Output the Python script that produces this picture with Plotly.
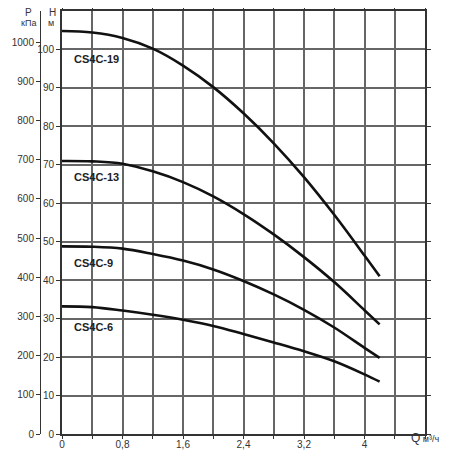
"""
Pump curves CS4C: head H (m) / pressure P (kPa) vs flow Q (m3/h).
"""
import plotly.graph_objects as go

# flow points, m3/h
q = [0, 0.4, 0.8, 1.2, 1.6, 2.0, 2.4, 2.8, 3.2, 3.6, 4.0, 4.2]

# head, m
h_cs4c_19 = [104.8, 104.4, 103.0, 100.2, 95.8, 90.2, 83.4, 75.6, 66.8, 57.0, 46.4, 41.0]
h_cs4c_13 = [71.0, 70.9, 70.3, 68.3, 65.5, 61.8, 57.2, 51.9, 46.0, 39.5, 32.2, 28.5]
h_cs4c_9 = [48.8, 48.7, 48.2, 46.8, 45.1, 42.8, 39.8, 36.3, 32.3, 27.7, 22.4, 19.8]
h_cs4c_6 = [33.2, 33.0, 32.1, 31.0, 29.7, 28.1, 26.0, 23.8, 21.5, 18.9, 15.5, 13.6]

curves = [
    ("CS4C-19", h_cs4c_19, 97.5),
    ("CS4C-13", h_cs4c_13, 66.9),
    ("CS4C-9", h_cs4c_9, 44.5),
    ("CS4C-6", h_cs4c_6, 27.7),
]

q_ticks = [0, 0.4, 0.8, 1.2, 1.6, 2.0, 2.4, 2.8, 3.2, 3.6, 4.0, 4.4, 4.8]
q_labels = ["0", "", "0,8", "", "1,6", "", "2,4", "", "3,2", "", "4", "", ""]
h_ticks = [0, 10, 20, 30, 40, 50, 60, 70, 80, 90, 100]
p_ticks = [0, 100, 200, 300, 400, 500, 600, 700, 800, 900, 1000]

H_MAX = 110
KPA_PER_M = 9.81

FONT = "Liberation Sans, Arial, sans-serif"
GRID = "#666666"
INK = "#333333"

# the page body adds an 8 px margin; screen positions below are shifted by OFF
OFF = 8
W, HGT = 442, 442
ML, MR, MT, MB = 40 - OFF, W - (425 - OFF), 11 - OFF, HGT - (434 - OFF)


def px(x, y):
    # screen pixel -> paper coordinates
    x, y = x - OFF, y - OFF
    return (x - ML) / (W - ML - MR), (HGT - MB - y) / (HGT - MT - MB)


fig = go.Figure()

for name, h, label_y in curves:
    fig.add_trace(go.Scatter(
        x=q, y=h, mode="lines", name=name,
        line=dict(color="#111111", width=2.6, shape="spline", smoothing=1.0),
        showlegend=False,
    ))
    fig.add_annotation(
        x=0.13, y=label_y, xref="x", yref="y",
        text=f"<b>{name}</b>", showarrow=False,
        xanchor="left", yanchor="middle",
        font=dict(family=FONT, size=11, color="#222222"),
    )

# invisible trace so the P axis gets drawn
fig.add_trace(go.Scatter(x=[0], y=[0], yaxis="y2", mode="markers",
                         marker=dict(opacity=0), showlegend=False, hoverinfo="skip"))

fig.update_layout(
    template="none",
    width=W, height=HGT,
    margin=dict(l=ML, r=MR, t=MT, b=MB, autoexpand=False),
    plot_bgcolor="white",
    paper_bgcolor="white",
    font=dict(family=FONT, size=10, color=INK),
    xaxis=dict(
        domain=[(62 - 40) / (425 - 40), 1],
        range=[0, 4.8],
        tickvals=q_ticks, ticktext=q_labels,
        showgrid=True, gridcolor=GRID, gridwidth=2,
        showline=True, linecolor=INK, linewidth=2, mirror="all",
        ticks="outside", ticklen=3, tickcolor=INK, tickwidth=1,
        ticklabelstandoff=-3,
        zeroline=False, automargin=False,
        tickfont=dict(size=10),
    ),
    yaxis=dict(
        range=[0, H_MAX],
        tickvals=h_ticks,
        showgrid=True, gridcolor=GRID, gridwidth=2,
        showline=True, linecolor=INK, linewidth=2, mirror="all",
        ticks="outside", ticklen=4, tickcolor=INK, tickwidth=1,
        zeroline=False, automargin=False,
        tickfont=dict(size=10),
    ),
    yaxis2=dict(
        overlaying="y", anchor="free", position=0, side="left",
        range=[0, H_MAX * KPA_PER_M],
        tickvals=p_ticks,
        showgrid=False, zeroline=False, automargin=False,
        showline=True, linecolor=INK, linewidth=1,
        ticks="outside", ticklen=4, tickcolor=INK, tickwidth=1,
        tickfont=dict(size=10),
    ),
)

for text, (x, y), size in [
    ("P", px(28, 12), 10),
    ("кПа", px(28, 23), 9),
    ("H", px(52, 12), 10),
    ("м", px(51, 23), 9),
]:
    fig.add_annotation(x=x, y=y, xref="paper", yref="paper", text=text,
                       showarrow=False, xanchor="center", yanchor="middle",
                       font=dict(family=FONT, size=size, color=INK))

qx, qy = px(409, 438)
fig.add_annotation(x=qx, y=qy, xref="paper", yref="paper",
                   text="<span style='font-size:12px'>Q</span> м³/ч",
                   showarrow=False, xanchor="left", yanchor="middle",
                   font=dict(family=FONT, size=9, color=INK))

fig.write_html("out.html")
